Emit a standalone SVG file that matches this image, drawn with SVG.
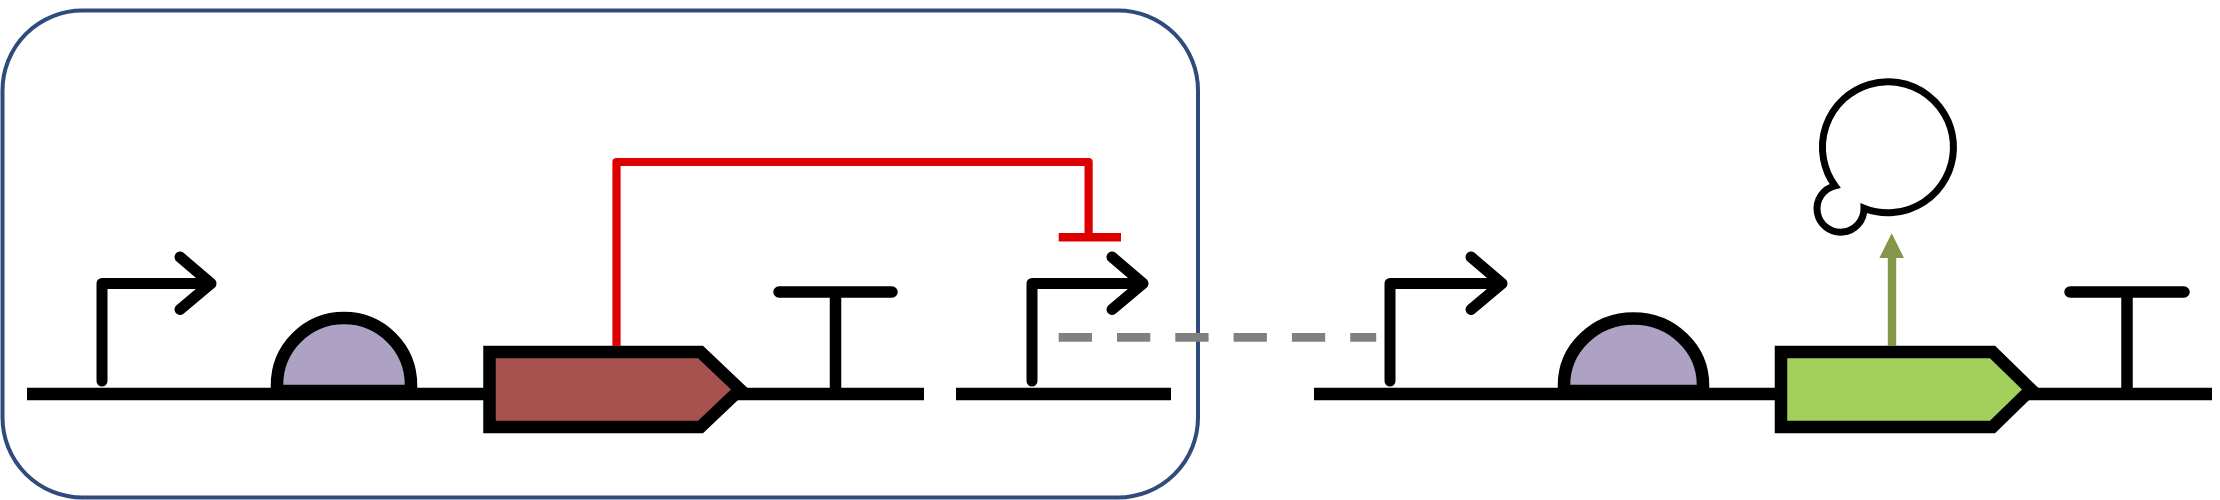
<svg xmlns="http://www.w3.org/2000/svg" width="2220" height="500" viewBox="0 0 2220 500">
<style>
.dna{fill:none;stroke:#000;stroke-width:12.5}
.prom{fill:none;stroke:#000;stroke-width:11;stroke-linecap:round;stroke-linejoin:round}
.rbs{fill:#ada2c4;stroke:#000;stroke-width:12.5}
.cds{stroke:#000;stroke-width:12.5;stroke-linejoin:miter}
.term{fill:none;stroke:#000;stroke-width:11.5}
.term .bar{stroke-linecap:round}
</style>
<rect width="2220" height="500" fill="#fff"/>
<g id="container"><rect x="2.5" y="10.5" width="1195.5" height="487" rx="80" ry="80" fill="#fff" stroke="#2f4b7c" stroke-width="4"/></g>
<g id="backbone-1"><line class="dna" x1="27" y1="394" x2="924" y2="394"/></g>
<g id="backbone-2"><line class="dna" x1="956" y1="394" x2="1171" y2="394"/></g>
<g id="backbone-3"><line class="dna" x1="1314" y1="394" x2="2212" y2="394"/></g>
<g id="promoter-1"><path class="prom" d="M102,381V283.5H211M180,257L211,283.5L180,309.5"/></g>
<g id="rbs-1"><path class="rbs" d="M277,391V385A67,67 0 0 1 411,385V391Z"/></g>
<g id="cds-1"><path class="cds" fill="#a85250" d="M489.5,352H700.5L740,389.5L700.5,427H489.5Z"/></g>
<g id="terminator-1" class="term"><line x1="835.5" y1="292" x2="835.5" y2="390"/><line class="bar" x1="779" y1="292" x2="892" y2="292"/></g>
<g id="promoter-2"><path class="prom" d="M1032,381V283.5H1143M1112,257L1143,283.5L1112,309.5"/></g>
<g id="promoter-3"><path class="prom" d="M1390,381V283.5H1502M1471,257L1502,283.5L1471,309.5"/></g>
<g id="rbs-2"><path class="rbs" d="M1564,391V385A69.5,66.5 0 0 1 1703,385V391Z"/></g>
<g id="cds-2"><path class="cds" fill="#a3cf5c" d="M1781,352H1992.5L2031,389.5L1992.5,427H1781Z"/></g>
<g id="terminator-2" class="term"><line x1="2127" y1="292" x2="2127" y2="390"/><line class="bar" x1="2070" y1="292" x2="2184" y2="292"/></g>
<g id="degradation"><path d="M1835,185.8A65.5,65.5 0 1 1 1864,208.2A23.5,23.5 0 1 1 1835,185.8Z" fill="#fff" stroke="#000" stroke-width="7" stroke-miterlimit="10"/></g>
<g id="connectors">
<path d="M616.5,346V162H1088.6V237" fill="none" stroke="#dd0000" stroke-width="8.2" stroke-linejoin="round"/>
<line x1="1058.7" y1="237.3" x2="1121" y2="237.3" stroke="#dd0000" stroke-width="8.6"/>
<line x1="1058.7" y1="337.4" x2="1376.2" y2="337.4" stroke="#808080" stroke-width="8.6" stroke-dasharray="33.3 25"/>
<line x1="1892" y1="346" x2="1892" y2="257" stroke="#84964a" stroke-width="8.4"/>
<polygon points="1891.7,233.3 1904,258 1879.3,258" fill="#84964a"/>
</g>
</svg>
